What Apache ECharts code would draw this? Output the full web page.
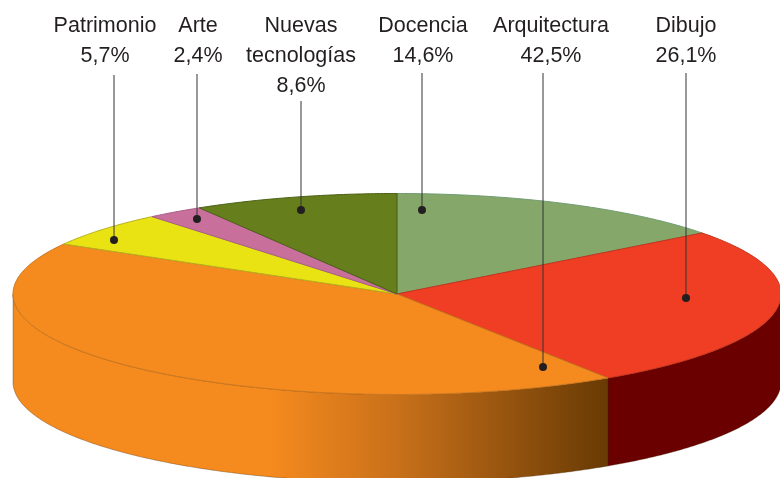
<!DOCTYPE html>
<html>
<head>
<meta charset="utf-8">
<title>Tarta</title>
<style>
html, body { margin: 0; padding: 0; background: #fff; }
#chart { width: 780px; height: 478px; }
</style>
<script src="https://cdn.jsdelivr.net/npm/echarts@6/dist/echarts.min.js"></script>
</head>
<body>
<div id="chart"></div>
<script>
// datos, en sentido horario desde las 12
var categories = ['Docencia', 'Dibujo', 'Arquitectura', 'Patrimonio', 'Arte', 'Nuevas\ntecnologías'];
var values = [14.6, 26.1, 42.5, 5.7, 2.4, 8.6];

// colores
var topColors = ['#85a86a', '#ef3e23', '#f58a1e', '#e9e314', '#c96f9b', '#667e1b'];
var edgeColors = ['#6f9a70', '#c2331c', '#c9761e', '#b5b01c', '#a8608a', '#4a6014'];
var sideRed = '#6b0000';
var sideOrange = {
    type: 'linear', x: 270, y: 0, x2: 608, y2: 0, global: true,
    colorStops: [
        { offset: 0, color: '#f58a1e' },
        { offset: 0.38, color: '#c8701a' },
        { offset: 1, color: '#683a04' }
    ]
};
var sideColors = ['#5f7f4a', sideRed, sideOrange, '#a9a410', '#8f4f70', '#44560f'];

// etiquetas: centro del texto, x de la linea, inicio de la linea y punto final
var labelX = [423, 686, 551, 105, 198, 301];
var leaderX = [422, 686, 543, 114, 197, 301];
var leaderTop = [73, 73, 73, 75, 74, 101];
var leaderEnd = [210, 298, 367, 240, 219, 210];

// geometria de la tarta
var cx = 397, cy = 294, rx = 384, ry = 100.5, depth = 88;
var total = values.reduce(function (a, b) { return a + b; }, 0);

function rimPoint(deg, dy) {
    var a = deg * Math.PI / 180;
    return [cx + rx * Math.sin(a), cy - ry * Math.cos(a) + (dy || 0)];
}

function arc(from, to, dy) {
    var pts = [];
    for (var d = from; d < to; d += 0.5) {
        pts.push(rimPoint(d, dy));
    }
    pts.push(rimPoint(to, dy));
    return pts;
}

function startAngle(index) {
    var sum = 0;
    for (var i = 0; i < index; i++) {
        sum += values[i];
    }
    return sum / total * 360;
}

function renderSlice(params, api) {
    var i = params.dataIndex;
    var from = startAngle(i);
    var to = from + api.value(0) / total * 360;
    var children = [];

    // lateral, solo la parte frontal (90-270)
    var sFrom = Math.max(from, 90), sTo = Math.min(to, 270);
    if (sTo > sFrom) {
        children.push({
            type: 'polygon',
            z2: 1,
            shape: { points: arc(sFrom, sTo, 0).concat(arc(sFrom, sTo, depth).reverse()) },
            style: { fill: sideColors[i], stroke: 'rgba(60,30,0,0.4)', lineWidth: 0.8 }
        });
    }
    children.push({
        type: 'polygon',
        z2: 2,
        shape: { points: [[cx, cy]].concat(arc(from, to, 0)) },
        style: { fill: topColors[i], stroke: edgeColors[i], lineWidth: 1 }
    });
    return { type: 'group', children: children };
}

function renderLabel(params, api) {
    var i = params.dataIndex;
    var pct = api.value(0).toFixed(1).replace('.', ',') + '%';
    return {
        type: 'group',
        children: [
            {
                type: 'text',
                style: {
                    x: labelX[i],
                    y: 11,
                    text: categories[i] + '\n' + pct,
                    font: '21.5px "Liberation Sans", sans-serif',
                    fill: '#231f20',
                    align: 'center',
                    verticalAlign: 'top',
                    lineHeight: 30
                }
            },
            {
                type: 'line',
                shape: { x1: leaderX[i], y1: leaderTop[i], x2: leaderX[i], y2: leaderEnd[i] },
                style: { stroke: '#333', lineWidth: 1 }
            },
            {
                type: 'circle',
                shape: { cx: leaderX[i], cy: leaderEnd[i], r: 4 },
                style: { fill: '#231f20' }
            }
        ]
    };
}

var myChart = echarts.init(document.getElementById('chart'));
var seriesData = values.map(function (v, i) {
    return { name: categories[i], value: [v] };
});

myChart.setOption({
    animation: false,
    backgroundColor: '#fff',
    series: [
        { type: 'custom', coordinateSystem: 'none', renderItem: renderSlice, data: seriesData, z: 1, silent: true },
        { type: 'custom', coordinateSystem: 'none', renderItem: renderLabel, data: seriesData, z: 2, silent: true }
    ]
});
</script>
</body>
</html>
